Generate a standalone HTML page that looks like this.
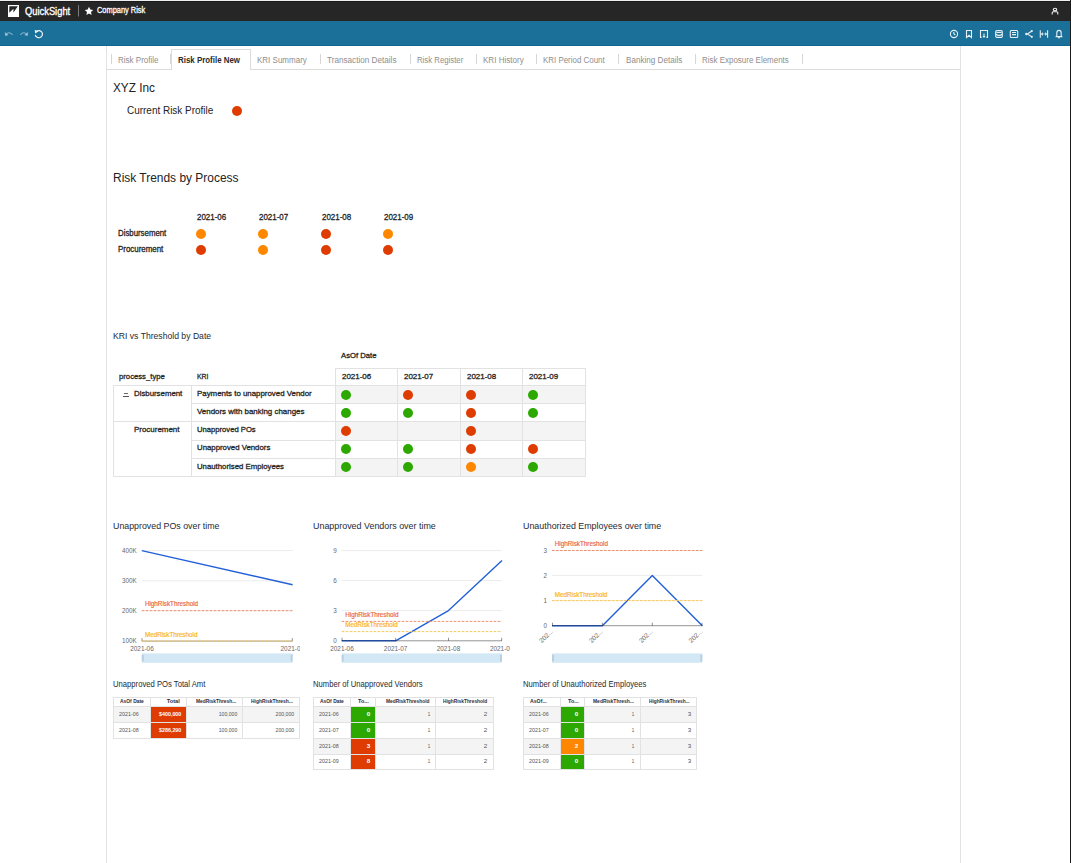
<!DOCTYPE html><html><head><meta charset="utf-8"><style>html,body{margin:0;padding:0;background:#fff;}body{width:1071px;height:863px;overflow:hidden;position:relative;font-family:"Liberation Sans",sans-serif;}svg text{font-family:"Liberation Sans",sans-serif;}</style></head><body><div style="position:absolute;left:0px;top:0px;width:1071px;height:1px;background:#efeff1;"></div>
<div style="position:absolute;left:0px;top:1px;width:1071px;height:1px;background:#1b1b1b;"></div>
<div style="position:absolute;left:0px;top:2px;width:1071px;height:19px;background:#262626;"></div>
<div style="position:absolute;left:0px;top:21px;width:1071px;height:24px;background:#1a7099;"></div>
<div style="position:absolute;left:0px;top:45px;width:1071px;height:1px;background:#0f6594;"></div>
<div style="position:absolute;left:106px;top:46px;width:1px;height:817px;background:#e3e3e3;"></div>
<div style="position:absolute;left:960px;top:46px;width:1px;height:817px;background:#e3e3e3;"></div>
<div style="position:absolute;left:1070px;top:0px;width:1px;height:863px;background:#1b1b1b;"></div>
<svg style="position:absolute;left:0;top:0" width="1071" height="46"><rect x="8" y="5" width="11" height="12" fill="#fff"/><polygon points="9.3,6.3 17.9,6.3 13.4,12.6 13.4,8.8 9.3,12.7" fill="#262626"/><rect x="78" y="5" width="1" height="11.5" fill="#7a7a7a"/><polygon points="89,6.8 90.3,9.6 93.2,9.9 91.0,11.9 91.6,15.0 89,13.5 86.4,15.0 87.0,11.9 84.8,9.9 87.7,9.6" fill="#fff"/><ellipse cx="1055" cy="9.5" rx="1.7" ry="1.3" fill="none" stroke="#eee" stroke-width="1.1"/><path d="M1052.2,14.6 V12.8 Q1052.2,11.8 1053.2,11.8 H1056.8 Q1057.8,11.8 1057.8,12.8 V14.6" fill="none" stroke="#eee" stroke-width="1.1"/><g fill="none" stroke="rgba(255,255,255,0.45)" stroke-width="1.1"><path d="M5.8,35 Q9,30.5 12.6,35"/><path d="M20.3,35 Q23.8,30.5 27.2,35"/></g><polygon points="4.7,31.8 5.2,35.9 8.6,35.3" fill="rgba(255,255,255,0.45)"/><polygon points="28.2,31.8 27.7,35.9 24.3,35.3" fill="rgba(255,255,255,0.45)"/><path d="M36.5,31.4 A3.6,3.6 0 1 1 35.3,34.8" fill="none" stroke="#f0f4f7" stroke-width="1.2"/><polygon points="34.7,29.8 35.2,33.4 38.4,31.6" fill="#f0f4f7"/><g fill="none" stroke="#e8eff4" stroke-width="1.1"><circle cx="954" cy="34" r="3.6"/><path d="M953.8,32 V33.8 L955.3,35"/><path d="M966.5,37.6 V30.5 H971.5 V37.6 L969,35.3 Z"/><path d="M981.6,37.4 H980.5 V30.5 H987.5 V37.4 H986.4"/><path d="M984,33.4 V37.2"/><rect x="995.7" y="30.6" width="6.6" height="6.8" rx="1.2"/><path d="M996.4,32.5 H1001.6 M995.9,34.2 Q999,36.6 1002.1,34.2"/><rect x="1010.3" y="30.5" width="7.4" height="7" rx="1"/><path d="M1012,32.5 H1016 M1012,34.6 H1016"/><path d="M1027.4,34 L1031.5,31.3 M1027.4,34 L1031.5,36.6"/><path d="M1040.3,30.2 V37.8 M1047.6,30.2 V37.8"/><path d="M1055.6,36.6 H1062.4 M1056.8,36.6 V33 Q1056.8,30.4 1059,30.4 Q1061.2,30.4 1061.2,33 V36.6"/></g><g fill="#e8eff4"><circle cx="1026.4" cy="34" r="1.3"/><circle cx="1031.8" cy="31.1" r="1.1"/><circle cx="1031.8" cy="36.8" r="1.1"/><polygon points="1040.6,34 1042.9,32.2 1042.9,35.8"/><polygon points="1047.4,34 1045.1,32.2 1045.1,35.8"/><rect x="1042.8" y="33.5" width="2.4" height="1" opacity="0.5"/><polygon points="982.2,36 985.8,36 984,37.8"/><circle cx="1059" cy="37.6" r="0.9"/></g></svg>
<div style="position:absolute;left:106px;top:69px;width:65px;height:1px;background:#dcdcdc;"></div>
<div style="position:absolute;left:250px;top:69px;width:710px;height:1px;background:#dcdcdc;"></div>
<div style="position:absolute;left:171px;top:49px;width:1px;height:21px;background:#dcdcdc;"></div>
<div style="position:absolute;left:250px;top:49px;width:1px;height:21px;background:#dcdcdc;"></div>
<div style="position:absolute;left:171px;top:49px;width:80px;height:1px;background:#dcdcdc;"></div>
<div style="position:absolute;left:111px;top:54px;width:1px;height:10px;background:#d6d6d6;"></div>
<div style="position:absolute;left:170px;top:54px;width:1px;height:10px;background:#d6d6d6;"></div>
<div style="position:absolute;left:320px;top:54px;width:1px;height:10px;background:#d6d6d6;"></div>
<div style="position:absolute;left:410px;top:54px;width:1px;height:10px;background:#d6d6d6;"></div>
<div style="position:absolute;left:476px;top:54px;width:1px;height:10px;background:#d6d6d6;"></div>
<div style="position:absolute;left:536px;top:54px;width:1px;height:10px;background:#d6d6d6;"></div>
<div style="position:absolute;left:618px;top:54px;width:1px;height:10px;background:#d6d6d6;"></div>
<div style="position:absolute;left:695px;top:54px;width:1px;height:10px;background:#d6d6d6;"></div>
<div style="position:absolute;left:802px;top:54px;width:1px;height:10px;background:#d6d6d6;"></div>
<div style="position:absolute;left:232.0px;top:105.9px;width:10px;height:10px;border-radius:50%;background:#de3c00"></div>
<div style="position:absolute;left:195.8px;top:229.0px;width:10px;height:10px;border-radius:50%;background:#ff8700"></div>
<div style="position:absolute;left:257.9px;top:229.0px;width:10px;height:10px;border-radius:50%;background:#ff8700"></div>
<div style="position:absolute;left:320.9px;top:229.0px;width:10px;height:10px;border-radius:50%;background:#de3c00"></div>
<div style="position:absolute;left:382.9px;top:229.0px;width:10px;height:10px;border-radius:50%;background:#ff8700"></div>
<div style="position:absolute;left:195.8px;top:244.9px;width:10px;height:10px;border-radius:50%;background:#de3c00"></div>
<div style="position:absolute;left:257.9px;top:244.9px;width:10px;height:10px;border-radius:50%;background:#ff8700"></div>
<div style="position:absolute;left:320.9px;top:244.9px;width:10px;height:10px;border-radius:50%;background:#de3c00"></div>
<div style="position:absolute;left:382.9px;top:244.9px;width:10px;height:10px;border-radius:50%;background:#de3c00"></div>
<div style="position:absolute;left:336px;top:386.4px;width:250px;height:17.100000000000023px;background:#f4f4f4;"></div>
<div style="position:absolute;left:336px;top:422.4px;width:250px;height:17.900000000000034px;background:#f4f4f4;"></div>
<div style="position:absolute;left:336px;top:459.1px;width:250px;height:17.0px;background:#f4f4f4;"></div>
<div style="position:absolute;left:335px;top:368px;width:251px;height:1px;background:#e2e2e2;"></div>
<div style="position:absolute;left:335px;top:368px;width:1px;height:109px;background:#e2e2e2;"></div>
<div style="position:absolute;left:397px;top:368px;width:1px;height:109px;background:#e2e2e2;"></div>
<div style="position:absolute;left:460px;top:368px;width:1px;height:109px;background:#e2e2e2;"></div>
<div style="position:absolute;left:522px;top:368px;width:1px;height:109px;background:#e2e2e2;"></div>
<div style="position:absolute;left:585px;top:368px;width:1px;height:109px;background:#e2e2e2;"></div>
<div style="position:absolute;left:113px;top:385px;width:473px;height:1px;background:#e2e2e2;"></div>
<div style="position:absolute;left:191px;top:403px;width:395px;height:1px;background:#e2e2e2;"></div>
<div style="position:absolute;left:113px;top:421px;width:473px;height:1px;background:#e2e2e2;"></div>
<div style="position:absolute;left:191px;top:440px;width:395px;height:1px;background:#e2e2e2;"></div>
<div style="position:absolute;left:191px;top:458px;width:395px;height:1px;background:#e2e2e2;"></div>
<div style="position:absolute;left:113px;top:476px;width:473px;height:1px;background:#e2e2e2;"></div>
<div style="position:absolute;left:113px;top:385px;width:1px;height:92px;background:#e2e2e2;"></div>
<div style="position:absolute;left:191px;top:385px;width:1px;height:92px;background:#e2e2e2;"></div>
<div style="position:absolute;left:124px;top:393px;width:4px;height:1px;background:#666;"></div>
<div style="position:absolute;left:123px;top:396px;width:6px;height:1px;background:#555;"></div>
<div style="position:absolute;left:340.9px;top:389.9px;width:10px;height:10px;border-radius:50%;background:#2ca800"></div>
<div style="position:absolute;left:402.9px;top:389.9px;width:10px;height:10px;border-radius:50%;background:#de3c00"></div>
<div style="position:absolute;left:465.7px;top:389.9px;width:10px;height:10px;border-radius:50%;background:#de3c00"></div>
<div style="position:absolute;left:527.9px;top:389.9px;width:10px;height:10px;border-radius:50%;background:#2ca800"></div>
<div style="position:absolute;left:340.9px;top:408.1px;width:10px;height:10px;border-radius:50%;background:#2ca800"></div>
<div style="position:absolute;left:402.9px;top:408.1px;width:10px;height:10px;border-radius:50%;background:#2ca800"></div>
<div style="position:absolute;left:465.7px;top:408.1px;width:10px;height:10px;border-radius:50%;background:#de3c00"></div>
<div style="position:absolute;left:527.9px;top:408.1px;width:10px;height:10px;border-radius:50%;background:#2ca800"></div>
<div style="position:absolute;left:340.9px;top:425.8px;width:10px;height:10px;border-radius:50%;background:#de3c00"></div>
<div style="position:absolute;left:465.7px;top:425.8px;width:10px;height:10px;border-radius:50%;background:#de3c00"></div>
<div style="position:absolute;left:340.9px;top:443.9px;width:10px;height:10px;border-radius:50%;background:#2ca800"></div>
<div style="position:absolute;left:402.9px;top:443.9px;width:10px;height:10px;border-radius:50%;background:#2ca800"></div>
<div style="position:absolute;left:465.7px;top:443.9px;width:10px;height:10px;border-radius:50%;background:#de3c00"></div>
<div style="position:absolute;left:527.9px;top:443.9px;width:10px;height:10px;border-radius:50%;background:#de3c00"></div>
<div style="position:absolute;left:340.9px;top:461.9px;width:10px;height:10px;border-radius:50%;background:#2ca800"></div>
<div style="position:absolute;left:402.9px;top:461.9px;width:10px;height:10px;border-radius:50%;background:#2ca800"></div>
<div style="position:absolute;left:465.7px;top:461.9px;width:10px;height:10px;border-radius:50%;background:#ff8700"></div>
<div style="position:absolute;left:527.9px;top:461.9px;width:10px;height:10px;border-radius:50%;background:#2ca800"></div>
<svg style="position:absolute;left:0;top:0;overflow:visible" width="1071" height="863"><clipPath id="c141"><rect x="111.80000000000001" y="500" width="188.2" height="200"/></clipPath><g clip-path="url(#c141)"><line x1="141.8" x2="292.6" y1="550.6" y2="550.6" stroke="#ececec" stroke-width="1"/><line x1="141.8" x2="292.6" y1="580.8" y2="580.8" stroke="#ececec" stroke-width="1"/><line x1="141.8" x2="292.6" y1="610.7" y2="610.7" stroke="#ececec" stroke-width="1"/><polyline points="141.8,550.6 292.6,584.7" fill="none" stroke="#2360d8" stroke-width="1.4" stroke-linejoin="round"/><line x1="141.8" x2="292.6" y1="641.1" y2="641.1" stroke="#2a2a2a" stroke-opacity="0.5" stroke-width="1"/><line x1="142" x2="142" y1="638.1" y2="641.1" stroke="#2a2a2a" stroke-opacity="0.5" stroke-width="1"/><line x1="292.3" x2="292.3" y1="638.1" y2="641.1" stroke="#2a2a2a" stroke-opacity="0.5" stroke-width="1"/><line x1="141.8" x2="292.6" y1="610.7" y2="610.7" stroke="#ee9170" stroke-width="1" stroke-dasharray="2.6,1.4"/><line x1="141.8" x2="292.6" y1="641.0" y2="641.0" stroke="#f8c95c" stroke-width="1" stroke-dasharray="2.6,1.4"/><text x="144.9" y="606.2" font-family="Liberation Sans" font-size="6.3" fill="#e8693c" stroke="#e8693c" stroke-width="0.18">HighRiskThreshold</text><text x="144.9" y="636.5" font-family="Liberation Sans" font-size="6.3" fill="#f9b323" stroke="#f9b323" stroke-width="0.18">MedRiskThreshold</text><text x="136.8" y="552.8000000000001" text-anchor="end" font-family="Liberation Sans" font-size="6.3" fill="#686868">400K</text><text x="136.8" y="583.0" text-anchor="end" font-family="Liberation Sans" font-size="6.3" fill="#686868">300K</text><text x="136.8" y="612.9000000000001" text-anchor="end" font-family="Liberation Sans" font-size="6.3" fill="#686868">200K</text><text x="136.8" y="643.3000000000001" text-anchor="end" font-family="Liberation Sans" font-size="6.3" fill="#686868">100K</text><text x="142" y="651.2" text-anchor="middle" font-family="Liberation Sans" font-size="6.4" fill="#686868">2021-06</text><text x="292.3" y="651.2" text-anchor="middle" font-family="Liberation Sans" font-size="6.4" fill="#686868">2021-08</text></g><rect x="141.8" y="653.4" width="150.8" height="9.4" fill="#d3e8f5"/><rect x="141.8" y="654.5" width="2" height="7.2" rx="1" fill="#b9cfe2"/><rect x="290.6" y="654.5" width="2" height="7.2" rx="1" fill="#b9cfe2"/></svg>
<svg style="position:absolute;left:0;top:0;overflow:visible" width="1071" height="863"><clipPath id="c341"><rect x="311.7" y="500" width="198.3" height="200"/></clipPath><g clip-path="url(#c341)"><line x1="341.7" x2="502" y1="550.6" y2="550.6" stroke="#ececec" stroke-width="1"/><line x1="341.7" x2="502" y1="580.6" y2="580.6" stroke="#ececec" stroke-width="1"/><line x1="341.7" x2="502" y1="610.6" y2="610.6" stroke="#ececec" stroke-width="1"/><polyline points="341.7,640.8 395.6,640.8 448.5,610.6 502,560.6" fill="none" stroke="#2360d8" stroke-width="1.4" stroke-linejoin="round"/><line x1="341.7" x2="502" y1="640.8" y2="640.8" stroke="#2a2a2a" stroke-opacity="0.5" stroke-width="1"/><line x1="342" x2="342" y1="637.8" y2="640.8" stroke="#2a2a2a" stroke-opacity="0.5" stroke-width="1"/><line x1="395.6" x2="395.6" y1="637.8" y2="640.8" stroke="#2a2a2a" stroke-opacity="0.5" stroke-width="1"/><line x1="448.5" x2="448.5" y1="637.8" y2="640.8" stroke="#2a2a2a" stroke-opacity="0.5" stroke-width="1"/><line x1="501.7" x2="501.7" y1="637.8" y2="640.8" stroke="#2a2a2a" stroke-opacity="0.5" stroke-width="1"/><line x1="341.7" x2="502" y1="621.4" y2="621.4" stroke="#ee9170" stroke-width="1" stroke-dasharray="2.6,1.4"/><line x1="341.7" x2="502" y1="631.6" y2="631.6" stroke="#f8c95c" stroke-width="1" stroke-dasharray="2.6,1.4"/><text x="345.2" y="616.9" font-family="Liberation Sans" font-size="6.3" fill="#e8693c" stroke="#e8693c" stroke-width="0.18">HighRiskThreshold</text><text x="345.2" y="626.6" font-family="Liberation Sans" font-size="6.3" fill="#f9b323" stroke="#f9b323" stroke-width="0.18">MedRiskThreshold</text><text x="336.7" y="552.8000000000001" text-anchor="end" font-family="Liberation Sans" font-size="6.3" fill="#686868">9</text><text x="336.7" y="582.8000000000001" text-anchor="end" font-family="Liberation Sans" font-size="6.3" fill="#686868">6</text><text x="336.7" y="612.8000000000001" text-anchor="end" font-family="Liberation Sans" font-size="6.3" fill="#686868">3</text><text x="336.7" y="643.0" text-anchor="end" font-family="Liberation Sans" font-size="6.3" fill="#686868">0</text><text x="342" y="651.2" text-anchor="middle" font-family="Liberation Sans" font-size="6.4" fill="#686868">2021-06</text><text x="395.6" y="651.2" text-anchor="middle" font-family="Liberation Sans" font-size="6.4" fill="#686868">2021-07</text><text x="448.5" y="651.2" text-anchor="middle" font-family="Liberation Sans" font-size="6.4" fill="#686868">2021-08</text><text x="501.7" y="651.2" text-anchor="middle" font-family="Liberation Sans" font-size="6.4" fill="#686868">2021-09</text></g><rect x="341.7" y="653.4" width="160.3" height="9.4" fill="#d3e8f5"/><rect x="341.7" y="654.5" width="2" height="7.2" rx="1" fill="#b9cfe2"/><rect x="500" y="654.5" width="2" height="7.2" rx="1" fill="#b9cfe2"/></svg>
<svg style="position:absolute;left:0;top:0;overflow:visible" width="1071" height="863"><g><line x1="552" x2="702.3" y1="550.5" y2="550.5" stroke="#ececec" stroke-width="1"/><line x1="552" x2="702.3" y1="575.4" y2="575.4" stroke="#ececec" stroke-width="1"/><line x1="552" x2="702.3" y1="600.6" y2="600.6" stroke="#ececec" stroke-width="1"/><polyline points="552,625.7 602.4,625.7 652.3,575.4 702.3,625.7" fill="none" stroke="#2360d8" stroke-width="1.4" stroke-linejoin="round"/><line x1="552" x2="702.3" y1="625.7" y2="625.7" stroke="#2a2a2a" stroke-opacity="0.5" stroke-width="1"/><line x1="552.5" x2="552.5" y1="622.7" y2="625.7" stroke="#2a2a2a" stroke-opacity="0.5" stroke-width="1"/><line x1="602.4" x2="602.4" y1="622.7" y2="625.7" stroke="#2a2a2a" stroke-opacity="0.5" stroke-width="1"/><line x1="652.3" x2="652.3" y1="622.7" y2="625.7" stroke="#2a2a2a" stroke-opacity="0.5" stroke-width="1"/><line x1="702" x2="702" y1="622.7" y2="625.7" stroke="#2a2a2a" stroke-opacity="0.5" stroke-width="1"/><line x1="552" x2="702.3" y1="550.5" y2="550.5" stroke="#ee9170" stroke-width="1" stroke-dasharray="2.6,1.4"/><line x1="552" x2="702.3" y1="600.6" y2="600.6" stroke="#f8c95c" stroke-width="1" stroke-dasharray="2.6,1.4"/><text x="554.8" y="546.4" font-family="Liberation Sans" font-size="6.3" fill="#e8693c" stroke="#e8693c" stroke-width="0.18">HighRiskThreshold</text><text x="554.8" y="596.8" font-family="Liberation Sans" font-size="6.3" fill="#f9b323" stroke="#f9b323" stroke-width="0.18">MedRiskThreshold</text><text x="547" y="552.7" text-anchor="end" font-family="Liberation Sans" font-size="6.3" fill="#686868">3</text><text x="547" y="577.6" text-anchor="end" font-family="Liberation Sans" font-size="6.3" fill="#686868">2</text><text x="547" y="602.8000000000001" text-anchor="end" font-family="Liberation Sans" font-size="6.3" fill="#686868">1</text><text x="547" y="627.9000000000001" text-anchor="end" font-family="Liberation Sans" font-size="6.3" fill="#686868">0</text><text transform="translate(553.5,631.7) rotate(-45)" text-anchor="end" font-family="Liberation Sans" font-size="6.6" fill="#686868">202...</text><text transform="translate(603.4,631.7) rotate(-45)" text-anchor="end" font-family="Liberation Sans" font-size="6.6" fill="#686868">202...</text><text transform="translate(653.3,631.7) rotate(-45)" text-anchor="end" font-family="Liberation Sans" font-size="6.6" fill="#686868">202...</text><text transform="translate(703,631.7) rotate(-45)" text-anchor="end" font-family="Liberation Sans" font-size="6.6" fill="#686868">202...</text></g><rect x="552" y="653.4" width="150.29999999999995" height="9.4" fill="#d3e8f5"/><rect x="552" y="654.5" width="2" height="7.2" rx="1" fill="#b9cfe2"/><rect x="700.3" y="654.5" width="2" height="7.2" rx="1" fill="#b9cfe2"/></svg>
<div style="position:absolute;left:113px;top:706.4px;width:186px;height:15.75px;background:#f4f4f4;"></div>
<div style="position:absolute;left:113px;top:722.15px;width:186px;height:15.75px;background:#fff;"></div>
<div style="position:absolute;left:113px;top:697.1px;width:187px;height:1px;background:#e2e2e2;"></div>
<div style="position:absolute;left:113px;top:706.4px;width:187px;height:1px;background:#e2e2e2;"></div>
<div style="position:absolute;left:113px;top:722.15px;width:187px;height:1px;background:#e2e2e2;"></div>
<div style="position:absolute;left:113px;top:737.9px;width:187px;height:1px;background:#e2e2e2;"></div>
<div style="position:absolute;left:113px;top:697.1px;width:1px;height:41.799999999999955px;background:#e2e2e2;"></div>
<div style="position:absolute;left:150px;top:697.1px;width:1px;height:41.799999999999955px;background:#e2e2e2;"></div>
<div style="position:absolute;left:186px;top:697.1px;width:1px;height:41.799999999999955px;background:#e2e2e2;"></div>
<div style="position:absolute;left:242px;top:697.1px;width:1px;height:41.799999999999955px;background:#e2e2e2;"></div>
<div style="position:absolute;left:299px;top:697.1px;width:1px;height:41.799999999999955px;background:#e2e2e2;"></div>
<div style="position:absolute;left:151px;top:707.4px;width:35px;height:14.75px;background:#de3c00;"></div>
<div style="position:absolute;left:151px;top:723.15px;width:35px;height:14.75px;background:#de3c00;"></div>
<div style="position:absolute;left:313px;top:706.4px;width:180px;height:15.75px;background:#f4f4f4;"></div>
<div style="position:absolute;left:313px;top:722.15px;width:180px;height:15.75px;background:#fff;"></div>
<div style="position:absolute;left:313px;top:737.9px;width:180px;height:15.75px;background:#f4f4f4;"></div>
<div style="position:absolute;left:313px;top:753.65px;width:180px;height:15.75px;background:#fff;"></div>
<div style="position:absolute;left:313px;top:697.1px;width:181px;height:1px;background:#e2e2e2;"></div>
<div style="position:absolute;left:313px;top:706.4px;width:181px;height:1px;background:#e2e2e2;"></div>
<div style="position:absolute;left:313px;top:722.15px;width:181px;height:1px;background:#e2e2e2;"></div>
<div style="position:absolute;left:313px;top:737.9px;width:181px;height:1px;background:#e2e2e2;"></div>
<div style="position:absolute;left:313px;top:753.65px;width:181px;height:1px;background:#e2e2e2;"></div>
<div style="position:absolute;left:313px;top:769.4px;width:181px;height:1px;background:#e2e2e2;"></div>
<div style="position:absolute;left:313px;top:697.1px;width:1px;height:73.29999999999995px;background:#e2e2e2;"></div>
<div style="position:absolute;left:350px;top:697.1px;width:1px;height:73.29999999999995px;background:#e2e2e2;"></div>
<div style="position:absolute;left:375px;top:697.1px;width:1px;height:73.29999999999995px;background:#e2e2e2;"></div>
<div style="position:absolute;left:435px;top:697.1px;width:1px;height:73.29999999999995px;background:#e2e2e2;"></div>
<div style="position:absolute;left:493px;top:697.1px;width:1px;height:73.29999999999995px;background:#e2e2e2;"></div>
<div style="position:absolute;left:351px;top:707.4px;width:24px;height:14.75px;background:#2ca800;"></div>
<div style="position:absolute;left:351px;top:723.15px;width:24px;height:14.75px;background:#2ca800;"></div>
<div style="position:absolute;left:351px;top:738.9px;width:24px;height:14.75px;background:#de3c00;"></div>
<div style="position:absolute;left:351px;top:754.65px;width:24px;height:14.75px;background:#de3c00;"></div>
<div style="position:absolute;left:523px;top:706.4px;width:173px;height:15.75px;background:#f4f4f4;"></div>
<div style="position:absolute;left:523px;top:722.15px;width:173px;height:15.75px;background:#fff;"></div>
<div style="position:absolute;left:523px;top:737.9px;width:173px;height:15.75px;background:#f4f4f4;"></div>
<div style="position:absolute;left:523px;top:753.65px;width:173px;height:15.75px;background:#fff;"></div>
<div style="position:absolute;left:523px;top:697.1px;width:174px;height:1px;background:#e2e2e2;"></div>
<div style="position:absolute;left:523px;top:706.4px;width:174px;height:1px;background:#e2e2e2;"></div>
<div style="position:absolute;left:523px;top:722.15px;width:174px;height:1px;background:#e2e2e2;"></div>
<div style="position:absolute;left:523px;top:737.9px;width:174px;height:1px;background:#e2e2e2;"></div>
<div style="position:absolute;left:523px;top:753.65px;width:174px;height:1px;background:#e2e2e2;"></div>
<div style="position:absolute;left:523px;top:769.4px;width:174px;height:1px;background:#e2e2e2;"></div>
<div style="position:absolute;left:523px;top:697.1px;width:1px;height:73.29999999999995px;background:#e2e2e2;"></div>
<div style="position:absolute;left:560px;top:697.1px;width:1px;height:73.29999999999995px;background:#e2e2e2;"></div>
<div style="position:absolute;left:584px;top:697.1px;width:1px;height:73.29999999999995px;background:#e2e2e2;"></div>
<div style="position:absolute;left:640px;top:697.1px;width:1px;height:73.29999999999995px;background:#e2e2e2;"></div>
<div style="position:absolute;left:696px;top:697.1px;width:1px;height:73.29999999999995px;background:#e2e2e2;"></div>
<div style="position:absolute;left:561px;top:707.4px;width:23px;height:14.75px;background:#2ca800;"></div>
<div style="position:absolute;left:561px;top:723.15px;width:23px;height:14.75px;background:#2ca800;"></div>
<div style="position:absolute;left:561px;top:738.9px;width:23px;height:14.75px;background:#ff8700;"></div>
<div style="position:absolute;left:561px;top:754.65px;width:23px;height:14.75px;background:#2ca800;"></div>
<div style="position:absolute;left:24.70px;top:5.70px;font-size:10.5px;line-height:10.5px;font-weight:400;color:#fff;white-space:pre;transform:scaleX(0.8901);transform-origin:left top;-webkit-text-stroke:0.35px #fff;">QuickSight</div>
<div style="position:absolute;left:97.20px;top:6.30px;font-size:8.6px;line-height:8.6px;font-weight:400;color:#fff;white-space:pre;transform:scaleX(0.8642);transform-origin:left top;-webkit-text-stroke:0.3px #fff;">Company Risk</div>
<div style="position:absolute;left:117.80px;top:56.30px;font-size:8.3px;line-height:8.3px;font-weight:400;color:#8e8e8e;white-space:pre;transform:scaleX(0.9674);transform-origin:left top;">Risk Profile</div>
<div style="position:absolute;left:178.00px;top:56.30px;font-size:8.3px;line-height:8.3px;font-weight:700;color:#2a2a2a;white-space:pre;transform:scaleX(0.9536);transform-origin:left top;">Risk Profile New</div>
<div style="position:absolute;left:257.40px;top:56.30px;font-size:8.3px;line-height:8.3px;font-weight:400;color:#8e8e8e;white-space:pre;transform:scaleX(0.9644);transform-origin:left top;">KRI Summary</div>
<div style="position:absolute;left:326.80px;top:56.30px;font-size:8.3px;line-height:8.3px;font-weight:400;color:#8e8e8e;white-space:pre;transform:scaleX(0.9828);transform-origin:left top;">Transaction Details</div>
<div style="position:absolute;left:417.00px;top:56.30px;font-size:8.3px;line-height:8.3px;font-weight:400;color:#8e8e8e;white-space:pre;transform:scaleX(0.9383);transform-origin:left top;">Risk Register</div>
<div style="position:absolute;left:483.00px;top:56.30px;font-size:8.3px;line-height:8.3px;font-weight:400;color:#8e8e8e;white-space:pre;transform:scaleX(0.9701);transform-origin:left top;">KRI History</div>
<div style="position:absolute;left:543.40px;top:56.30px;font-size:8.3px;line-height:8.3px;font-weight:400;color:#8e8e8e;white-space:pre;transform:scaleX(0.9554);transform-origin:left top;">KRI Period Count</div>
<div style="position:absolute;left:625.80px;top:56.30px;font-size:8.3px;line-height:8.3px;font-weight:400;color:#8e8e8e;white-space:pre;transform:scaleX(0.9765);transform-origin:left top;">Banking Details</div>
<div style="position:absolute;left:702.30px;top:56.30px;font-size:8.3px;line-height:8.3px;font-weight:400;color:#8e8e8e;white-space:pre;transform:scaleX(0.9603);transform-origin:left top;">Risk Exposure Elements</div>
<div style="position:absolute;left:113.00px;top:81.00px;font-size:13px;line-height:13px;font-weight:400;color:#232323;white-space:pre;transform:scaleX(0.9081);transform-origin:left top;">XYZ Inc</div>
<div style="position:absolute;left:126.70px;top:105.00px;font-size:10.5px;line-height:10.5px;font-weight:400;color:#232323;white-space:pre;transform:scaleX(0.9480);transform-origin:left top;">Current Risk Profile</div>
<div style="position:absolute;left:112.70px;top:171.10px;font-size:13.6px;line-height:13.6px;font-weight:400;color:#232323;white-space:pre;transform:scaleX(0.8790);transform-origin:left top;">Risk Trends by Process</div>
<div style="position:absolute;left:196.80px;top:213.00px;font-size:8.5px;line-height:8.5px;font-weight:400;color:#232323;white-space:pre;transform:scaleX(0.9358);transform-origin:left top;-webkit-text-stroke:0.28px #232323;">2021-06</div>
<div style="position:absolute;left:258.90px;top:213.00px;font-size:8.5px;line-height:8.5px;font-weight:400;color:#232323;white-space:pre;transform:scaleX(0.9358);transform-origin:left top;-webkit-text-stroke:0.28px #232323;">2021-07</div>
<div style="position:absolute;left:321.90px;top:213.00px;font-size:8.5px;line-height:8.5px;font-weight:400;color:#232323;white-space:pre;transform:scaleX(0.9358);transform-origin:left top;-webkit-text-stroke:0.28px #232323;">2021-08</div>
<div style="position:absolute;left:383.90px;top:213.00px;font-size:8.5px;line-height:8.5px;font-weight:400;color:#232323;white-space:pre;transform:scaleX(0.9358);transform-origin:left top;-webkit-text-stroke:0.28px #232323;">2021-09</div>
<div style="position:absolute;left:117.70px;top:230.10px;font-size:8.2px;line-height:8.2px;font-weight:400;color:#232323;white-space:pre;transform:scaleX(0.9561);transform-origin:left top;-webkit-text-stroke:0.28px #232323;">Disbursement</div>
<div style="position:absolute;left:117.70px;top:245.90px;font-size:8.2px;line-height:8.2px;font-weight:400;color:#232323;white-space:pre;transform:scaleX(0.9664);transform-origin:left top;-webkit-text-stroke:0.28px #232323;">Procurement</div>
<div style="position:absolute;left:113.00px;top:332.00px;font-size:9px;line-height:9px;font-weight:400;color:#262a33;white-space:pre;transform:scaleX(0.9581);transform-origin:left top;">KRI vs Threshold by Date</div>
<div style="position:absolute;left:340.60px;top:352.10px;font-size:7.6px;line-height:7.6px;font-weight:400;color:#232323;white-space:pre;transform:scaleX(1.0134);transform-origin:left top;-webkit-text-stroke:0.28px #232323;">AsOf Date</div>
<div style="position:absolute;left:119.20px;top:373.00px;font-size:7.6px;line-height:7.6px;font-weight:400;color:#232323;white-space:pre;transform:scaleX(1.0139);transform-origin:left top;-webkit-text-stroke:0.28px #232323;">process_type</div>
<div style="position:absolute;left:196.70px;top:373.00px;font-size:7.6px;line-height:7.6px;font-weight:400;color:#232323;white-space:pre;transform:scaleX(0.9075);transform-origin:left top;-webkit-text-stroke:0.28px #232323;">KRI</div>
<div style="position:absolute;left:341.80px;top:373.00px;font-size:7.6px;line-height:7.6px;font-weight:400;color:#232323;white-space:pre;transform:scaleX(1.0475);transform-origin:left top;-webkit-text-stroke:0.28px #232323;">2021-06</div>
<div style="position:absolute;left:403.90px;top:373.00px;font-size:7.6px;line-height:7.6px;font-weight:400;color:#232323;white-space:pre;transform:scaleX(1.0475);transform-origin:left top;-webkit-text-stroke:0.28px #232323;">2021-07</div>
<div style="position:absolute;left:466.60px;top:373.00px;font-size:7.6px;line-height:7.6px;font-weight:400;color:#232323;white-space:pre;transform:scaleX(1.0475);transform-origin:left top;-webkit-text-stroke:0.28px #232323;">2021-08</div>
<div style="position:absolute;left:529.10px;top:373.00px;font-size:7.6px;line-height:7.6px;font-weight:400;color:#232323;white-space:pre;transform:scaleX(1.0475);transform-origin:left top;-webkit-text-stroke:0.28px #232323;">2021-09</div>
<div style="position:absolute;left:134.00px;top:389.80px;font-size:7.6px;line-height:7.6px;font-weight:400;color:#232323;white-space:pre;transform:scaleX(1.0307);transform-origin:left top;-webkit-text-stroke:0.28px #232323;">Disbursement</div>
<div style="position:absolute;left:133.80px;top:426.20px;font-size:7.6px;line-height:7.6px;font-weight:400;color:#232323;white-space:pre;transform:scaleX(1.0464);transform-origin:left top;-webkit-text-stroke:0.28px #232323;">Procurement</div>
<div style="position:absolute;left:196.50px;top:389.80px;font-size:7.6px;line-height:7.6px;font-weight:400;color:#232323;white-space:pre;transform:scaleX(1.0370);transform-origin:left top;-webkit-text-stroke:0.28px #232323;">Payments to unapproved Vendor</div>
<div style="position:absolute;left:196.50px;top:407.90px;font-size:7.6px;line-height:7.6px;font-weight:400;color:#232323;white-space:pre;transform:scaleX(1.0426);transform-origin:left top;-webkit-text-stroke:0.28px #232323;">Vendors with banking changes</div>
<div style="position:absolute;left:196.50px;top:426.20px;font-size:7.6px;line-height:7.6px;font-weight:400;color:#232323;white-space:pre;transform:scaleX(1.0075);transform-origin:left top;-webkit-text-stroke:0.28px #232323;">Unapproved POs</div>
<div style="position:absolute;left:196.50px;top:444.20px;font-size:7.6px;line-height:7.6px;font-weight:400;color:#232323;white-space:pre;transform:scaleX(1.0272);transform-origin:left top;-webkit-text-stroke:0.28px #232323;">Unapproved Vendors</div>
<div style="position:absolute;left:196.50px;top:462.80px;font-size:7.6px;line-height:7.6px;font-weight:400;color:#232323;white-space:pre;transform:scaleX(1.0252);transform-origin:left top;-webkit-text-stroke:0.28px #232323;">Unauthorised Employees</div>
<div style="position:absolute;left:113.00px;top:521.00px;font-size:9.4px;line-height:9.4px;font-weight:400;color:#262a33;white-space:pre;transform:scaleX(0.9418);transform-origin:left top;">Unapproved POs over time</div>
<div style="position:absolute;left:313.20px;top:521.00px;font-size:9.4px;line-height:9.4px;font-weight:400;color:#262a33;white-space:pre;transform:scaleX(0.9501);transform-origin:left top;">Unapproved Vendors over time</div>
<div style="position:absolute;left:523.40px;top:521.00px;font-size:9.4px;line-height:9.4px;font-weight:400;color:#262a33;white-space:pre;transform:scaleX(0.9472);transform-origin:left top;">Unauthorized Employees over time</div>
<div style="position:absolute;left:113.40px;top:681.20px;font-size:8.2px;line-height:8.2px;font-weight:400;color:#262a33;white-space:pre;transform:scaleX(0.9370);transform-origin:left top;">Unapproved POs Total Amt</div>
<div style="position:absolute;left:119.90px;top:698.90px;font-size:5.6px;line-height:5.6px;font-weight:700;color:#2b2b3a;white-space:pre;transform:scaleX(0.8800);transform-origin:left top;">AsOf Date</div>
<div style="position:absolute;left:166.75px;top:698.90px;font-size:5.6px;line-height:5.6px;font-weight:700;color:#2b2b3a;white-space:pre;">Total</div>
<div style="position:absolute;left:195.80px;top:698.90px;font-size:5.6px;line-height:5.6px;font-weight:700;color:#2b2b3a;white-space:pre;transform:scaleX(0.8677);transform-origin:left top;">MedRiskThresh...</div>
<div style="position:absolute;left:251.20px;top:698.90px;font-size:5.6px;line-height:5.6px;font-weight:700;color:#2b2b3a;white-space:pre;transform:scaleX(0.8830);transform-origin:left top;">HighRiskThresh...</div>
<div style="position:absolute;left:119.00px;top:712.00px;font-size:5.6px;line-height:5.6px;font-weight:400;color:#555;white-space:pre;transform:scaleX(0.9546);transform-origin:left top;">2021-06</div>
<div style="position:absolute;left:157.76px;top:712.00px;font-size:5.6px;line-height:5.6px;font-weight:700;color:#fff;white-space:pre;transform:scaleX(0.9596);transform-origin:right top;">$400,000</div>
<div style="position:absolute;left:216.77px;top:712.00px;font-size:5.6px;line-height:5.6px;font-weight:400;color:#555;white-space:pre;transform:scaleX(0.9143);transform-origin:right top;">100,000</div>
<div style="position:absolute;left:273.57px;top:712.00px;font-size:5.6px;line-height:5.6px;font-weight:400;color:#555;white-space:pre;transform:scaleX(0.9242);transform-origin:right top;">200,000</div>
<div style="position:absolute;left:119.00px;top:727.75px;font-size:5.6px;line-height:5.6px;font-weight:400;color:#555;white-space:pre;transform:scaleX(0.9546);transform-origin:left top;">2021-08</div>
<div style="position:absolute;left:157.76px;top:727.75px;font-size:5.6px;line-height:5.6px;font-weight:700;color:#fff;white-space:pre;transform:scaleX(0.9596);transform-origin:right top;">$286,290</div>
<div style="position:absolute;left:216.77px;top:727.75px;font-size:5.6px;line-height:5.6px;font-weight:400;color:#555;white-space:pre;transform:scaleX(0.9143);transform-origin:right top;">100,000</div>
<div style="position:absolute;left:273.57px;top:727.75px;font-size:5.6px;line-height:5.6px;font-weight:400;color:#555;white-space:pre;transform:scaleX(0.9242);transform-origin:right top;">200,000</div>
<div style="position:absolute;left:313.40px;top:681.20px;font-size:8.2px;line-height:8.2px;font-weight:400;color:#262a33;white-space:pre;transform:scaleX(0.9333);transform-origin:left top;">Number of Unapproved Vendors</div>
<div style="position:absolute;left:320.00px;top:698.90px;font-size:5.6px;line-height:5.6px;font-weight:700;color:#2b2b3a;white-space:pre;transform:scaleX(0.8800);transform-origin:left top;">AsOf Date</div>
<div style="position:absolute;left:358.20px;top:698.90px;font-size:5.6px;line-height:5.6px;font-weight:700;color:#2b2b3a;white-space:pre;transform:scaleX(0.9735);transform-origin:left top;">To...</div>
<div style="position:absolute;left:385.70px;top:698.90px;font-size:5.6px;line-height:5.6px;font-weight:700;color:#2b2b3a;white-space:pre;transform:scaleX(0.8692);transform-origin:left top;">MedRiskThreshold</div>
<div style="position:absolute;left:442.80px;top:698.90px;font-size:5.6px;line-height:5.6px;font-weight:700;color:#2b2b3a;white-space:pre;transform:scaleX(0.8639);transform-origin:left top;">HighRiskThreshold</div>
<div style="position:absolute;left:319.00px;top:712.00px;font-size:5.6px;line-height:5.6px;font-weight:400;color:#555;white-space:pre;transform:scaleX(0.9546);transform-origin:left top;">2021-06</div>
<div style="position:absolute;left:366.57px;top:712.00px;font-size:5.6px;line-height:5.6px;font-weight:700;color:#fff;white-space:pre;transform:scaleX(1.1200);transform-origin:right top;">0</div>
<div style="position:absolute;left:426.57px;top:712.00px;font-size:5.6px;line-height:5.6px;font-weight:400;color:#555;white-space:pre;transform:scaleX(0.8000);transform-origin:right top;">1</div>
<div style="position:absolute;left:484.48px;top:712.00px;font-size:5.6px;line-height:5.6px;font-weight:400;color:#555;white-space:pre;transform:scaleX(1.1200);transform-origin:right top;">2</div>
<div style="position:absolute;left:319.00px;top:727.75px;font-size:5.6px;line-height:5.6px;font-weight:400;color:#555;white-space:pre;transform:scaleX(0.9546);transform-origin:left top;">2021-07</div>
<div style="position:absolute;left:366.57px;top:727.75px;font-size:5.6px;line-height:5.6px;font-weight:700;color:#fff;white-space:pre;transform:scaleX(1.1200);transform-origin:right top;">0</div>
<div style="position:absolute;left:426.57px;top:727.75px;font-size:5.6px;line-height:5.6px;font-weight:400;color:#555;white-space:pre;transform:scaleX(0.8000);transform-origin:right top;">1</div>
<div style="position:absolute;left:484.48px;top:727.75px;font-size:5.6px;line-height:5.6px;font-weight:400;color:#555;white-space:pre;transform:scaleX(1.1200);transform-origin:right top;">2</div>
<div style="position:absolute;left:319.00px;top:743.50px;font-size:5.6px;line-height:5.6px;font-weight:400;color:#555;white-space:pre;transform:scaleX(0.9546);transform-origin:left top;">2021-08</div>
<div style="position:absolute;left:366.57px;top:743.50px;font-size:5.6px;line-height:5.6px;font-weight:700;color:#fff;white-space:pre;transform:scaleX(1.1200);transform-origin:right top;">3</div>
<div style="position:absolute;left:426.57px;top:743.50px;font-size:5.6px;line-height:5.6px;font-weight:400;color:#555;white-space:pre;transform:scaleX(0.8000);transform-origin:right top;">1</div>
<div style="position:absolute;left:484.48px;top:743.50px;font-size:5.6px;line-height:5.6px;font-weight:400;color:#555;white-space:pre;transform:scaleX(1.1200);transform-origin:right top;">2</div>
<div style="position:absolute;left:319.00px;top:759.25px;font-size:5.6px;line-height:5.6px;font-weight:400;color:#555;white-space:pre;transform:scaleX(0.9546);transform-origin:left top;">2021-09</div>
<div style="position:absolute;left:366.57px;top:759.25px;font-size:5.6px;line-height:5.6px;font-weight:700;color:#fff;white-space:pre;transform:scaleX(1.1200);transform-origin:right top;">8</div>
<div style="position:absolute;left:426.57px;top:759.25px;font-size:5.6px;line-height:5.6px;font-weight:400;color:#555;white-space:pre;transform:scaleX(0.8000);transform-origin:right top;">1</div>
<div style="position:absolute;left:484.48px;top:759.25px;font-size:5.6px;line-height:5.6px;font-weight:400;color:#555;white-space:pre;transform:scaleX(1.1200);transform-origin:right top;">2</div>
<div style="position:absolute;left:523.40px;top:681.20px;font-size:8.2px;line-height:8.2px;font-weight:400;color:#262a33;white-space:pre;transform:scaleX(0.9342);transform-origin:left top;">Number of Unauthorized Employees</div>
<div style="position:absolute;left:530.00px;top:698.90px;font-size:5.6px;line-height:5.6px;font-weight:700;color:#2b2b3a;white-space:pre;transform:scaleX(0.9262);transform-origin:left top;">AsOf...</div>
<div style="position:absolute;left:567.70px;top:698.90px;font-size:5.6px;line-height:5.6px;font-weight:700;color:#2b2b3a;white-space:pre;transform:scaleX(0.9735);transform-origin:left top;">To...</div>
<div style="position:absolute;left:593.00px;top:698.90px;font-size:5.6px;line-height:5.6px;font-weight:700;color:#2b2b3a;white-space:pre;transform:scaleX(0.8850);transform-origin:left top;">MedRiskThresh...</div>
<div style="position:absolute;left:649.00px;top:698.90px;font-size:5.6px;line-height:5.6px;font-weight:700;color:#2b2b3a;white-space:pre;transform:scaleX(0.8536);transform-origin:left top;">HighRiskThresh...</div>
<div style="position:absolute;left:529.00px;top:712.00px;font-size:5.6px;line-height:5.6px;font-weight:400;color:#555;white-space:pre;transform:scaleX(0.9546);transform-origin:left top;">2021-06</div>
<div style="position:absolute;left:575.48px;top:712.00px;font-size:5.6px;line-height:5.6px;font-weight:700;color:#fff;white-space:pre;transform:scaleX(1.1200);transform-origin:right top;">0</div>
<div style="position:absolute;left:630.88px;top:712.00px;font-size:5.6px;line-height:5.6px;font-weight:400;color:#555;white-space:pre;transform:scaleX(0.8000);transform-origin:right top;">1</div>
<div style="position:absolute;left:687.88px;top:712.00px;font-size:5.6px;line-height:5.6px;font-weight:400;color:#555;white-space:pre;transform:scaleX(1.1200);transform-origin:right top;">3</div>
<div style="position:absolute;left:529.00px;top:727.75px;font-size:5.6px;line-height:5.6px;font-weight:400;color:#555;white-space:pre;transform:scaleX(0.9546);transform-origin:left top;">2021-07</div>
<div style="position:absolute;left:575.48px;top:727.75px;font-size:5.6px;line-height:5.6px;font-weight:700;color:#fff;white-space:pre;transform:scaleX(1.1200);transform-origin:right top;">0</div>
<div style="position:absolute;left:630.88px;top:727.75px;font-size:5.6px;line-height:5.6px;font-weight:400;color:#555;white-space:pre;transform:scaleX(0.8000);transform-origin:right top;">1</div>
<div style="position:absolute;left:687.88px;top:727.75px;font-size:5.6px;line-height:5.6px;font-weight:400;color:#555;white-space:pre;transform:scaleX(1.1200);transform-origin:right top;">3</div>
<div style="position:absolute;left:529.00px;top:743.50px;font-size:5.6px;line-height:5.6px;font-weight:400;color:#555;white-space:pre;transform:scaleX(0.9546);transform-origin:left top;">2021-08</div>
<div style="position:absolute;left:575.48px;top:743.50px;font-size:5.6px;line-height:5.6px;font-weight:700;color:#fff;white-space:pre;transform:scaleX(1.1200);transform-origin:right top;">2</div>
<div style="position:absolute;left:630.88px;top:743.50px;font-size:5.6px;line-height:5.6px;font-weight:400;color:#555;white-space:pre;transform:scaleX(0.8000);transform-origin:right top;">1</div>
<div style="position:absolute;left:687.88px;top:743.50px;font-size:5.6px;line-height:5.6px;font-weight:400;color:#555;white-space:pre;transform:scaleX(1.1200);transform-origin:right top;">3</div>
<div style="position:absolute;left:529.00px;top:759.25px;font-size:5.6px;line-height:5.6px;font-weight:400;color:#555;white-space:pre;transform:scaleX(0.9546);transform-origin:left top;">2021-09</div>
<div style="position:absolute;left:575.48px;top:759.25px;font-size:5.6px;line-height:5.6px;font-weight:700;color:#fff;white-space:pre;transform:scaleX(1.1200);transform-origin:right top;">0</div>
<div style="position:absolute;left:630.88px;top:759.25px;font-size:5.6px;line-height:5.6px;font-weight:400;color:#555;white-space:pre;transform:scaleX(0.8000);transform-origin:right top;">1</div>
<div style="position:absolute;left:687.88px;top:759.25px;font-size:5.6px;line-height:5.6px;font-weight:400;color:#555;white-space:pre;transform:scaleX(1.1200);transform-origin:right top;">3</div></body></html>
